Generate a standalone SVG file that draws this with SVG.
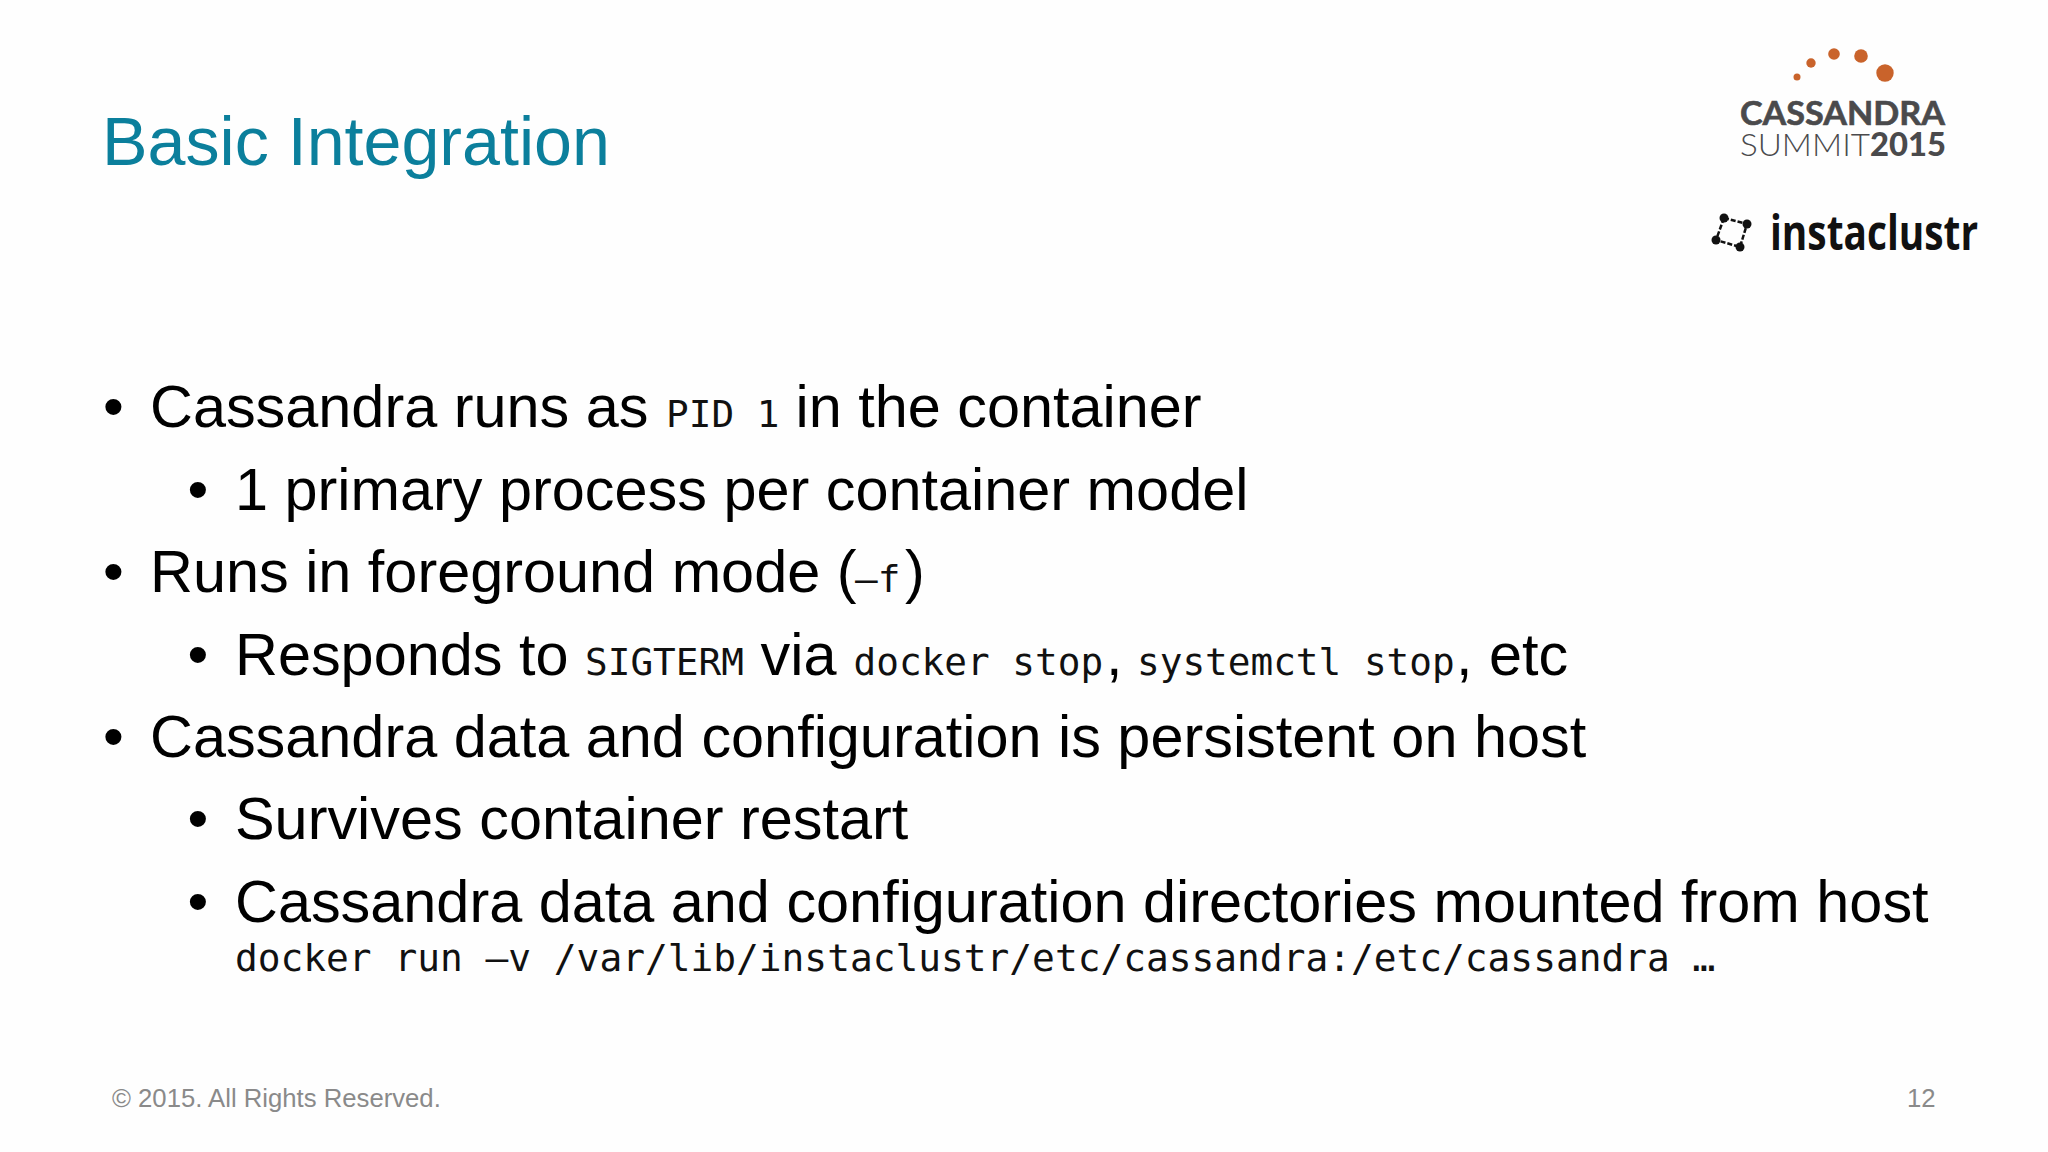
<svg xmlns="http://www.w3.org/2000/svg" width="2048" height="1152" viewBox="0 0 2048 1152">
<style>
.b{font-family:"Liberation Sans",Arial,sans-serif;font-size:59.4px;fill:#000}
.m{font-family:"DejaVu Sans Mono",monospace;font-size:37.7px;fill:#111}
.f{font-family:"Liberation Sans",Arial,sans-serif;font-size:25.7px;fill:#8a8a8a}
.o{fill:#c9632b}
.l{font-family:Lato,sans-serif;fill:#4a4a4c}
.d{fill:#111}
</style>
<rect width="2048" height="1152" fill="#fefefe"/>
<text x="102" y="164.500" font-family="'Liberation Sans',Arial,sans-serif" font-size="68.200" fill="#0b7f9c">Basic Integration</text>
<g id="logo-summit">
<circle class="o" cx="1797" cy="77" r="3.5"/><circle class="o" cx="1811" cy="63" r="4.7"/><circle class="o" cx="1834" cy="54" r="5.8"/><circle class="o" cx="1861" cy="56" r="6.8"/><circle class="o" cx="1885" cy="73" r="8.7"/>
<text class="l" x="1740" y="124.500" font-size="32" font-weight="700" stroke="#4a4a4c" stroke-width="0.6" textLength="205" lengthAdjust="spacingAndGlyphs">CASSANDRA</text>
<text class="l" x="1740" y="156" font-size="32" font-weight="300" textLength="130" lengthAdjust="spacingAndGlyphs">SUMMIT</text>
<text class="l" x="1870" y="156" font-size="32" font-weight="900" textLength="76" lengthAdjust="spacingAndGlyphs">2015</text>
</g>
<g id="logo-instaclustr">
<path d="M1724 218L1747 224L1740 247L1716 240Z" fill="none" stroke="#111" stroke-width="2.500" stroke-dasharray="5 2"/>
<circle class="d" cx="1724" cy="218" r="4.500"/><circle class="d" cx="1747" cy="224" r="4.500"/><circle class="d" cx="1740" cy="247" r="4.500"/><circle class="d" cx="1716" cy="240" r="4.500"/>
<text x="1770" y="250" font-family="'Open Sans',sans-serif" font-size="48" font-weight="700" fill="#111" textLength="208" lengthAdjust="spacingAndGlyphs">instaclustr</text>
</g>
<g id="bullets">
<text class="b" x="103" y="427">•</text>
<text class="b" x="150" y="427">Cassandra runs as</text><text class="m" x="666" y="427">PID 1</text><text class="b" x="795.500" y="427">in the container</text>
<text class="b" x="187.500" y="509.500">•</text>
<text class="b" x="235" y="509.500">1 primary process per container model</text>
<text class="b" x="103" y="592">•</text>
<text class="b" x="150" y="592">Runs in foreground mode (</text><text class="m" x="855" y="592">–f</text><text class="b" x="905" y="592">)</text>
<text class="b" x="187.500" y="674.500">•</text>
<text class="b" x="235" y="674.500">Responds to</text><text class="m" x="585" y="674.500">SIGTERM</text><text class="b" x="760.500" y="674.500">via</text><text class="m" x="853.500" y="674.500">docker stop</text><text class="b" x="1106" y="674.500">,</text><text class="m" x="1137" y="674.500">systemctl stop</text><text class="b" x="1456" y="674.500">,</text><text class="b" x="1489" y="674.500">etc</text>
<text class="b" x="103" y="756.500">•</text>
<text class="b" x="150" y="756.500">Cassandra data and configuration is persistent on host</text>
<text class="b" x="187.500" y="839">•</text>
<text class="b" x="235" y="839">Survives container restart</text>
<text class="b" x="187.500" y="921.500">•</text>
<text class="b" x="235" y="921.500">Cassandra data and configuration directories mounted from host</text>
<text class="m" x="235" y="970.500" style="font-size:37.83px">docker run –v /var/lib/instaclustr/etc/cassandra:/etc/cassandra …</text>
</g>
<text class="f" x="112" y="1106.500">© 2015. All Rights Reserved.</text>
<text class="f" x="1935.500" y="1106.500" text-anchor="end">12</text>
</svg>
